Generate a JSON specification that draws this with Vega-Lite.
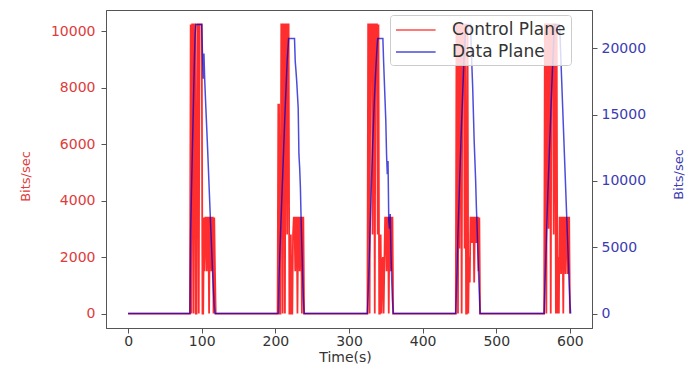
{
  "$schema": "https://vega.github.io/schema/vega-lite/v6.json",
  "width": 486,
  "height": 318,
  "autosize": {"type": "none"},
  "padding": {"left": 106, "top": 10, "right": 93, "bottom": 38},
  "background": "white",
  "config": {
    "font": "DejaVu Sans",
    "view": {"stroke": "#555", "strokeWidth": 1},
    "axis": {"grid": false, "domainColor": "#555", "tickColor": "#555", "tickSize": 5, "labelFontSize": 14, "titleFontSize": 13, "titleFontWeight": "normal"}
  },
  "datasets": {
    "control": [
      {"t":0,"v":0},{"t":84,"v":0},
      {"t":85,"v":10240},{"t":86,"v":0},{"t":87,"v":10240},{"t":88,"v":10240},{"t":89,"v":0},{"t":90,"v":10240},{"t":91,"v":10240},{"t":92,"v":0},{"t":93,"v":0},{"t":94,"v":10240},{"t":95,"v":10240},{"t":96,"v":0},{"t":97,"v":10240},{"t":98,"v":10240},{"t":99,"v":10240},{"t":100,"v":10240},{"t":101,"v":0},{"t":102,"v":0},{"t":103,"v":3400},{"t":104,"v":1500},{"t":105,"v":3400},{"t":106,"v":3400},{"t":107,"v":1500},{"t":108,"v":3400},{"t":109,"v":3400},{"t":110,"v":0},{"t":111,"v":3400},{"t":112,"v":3400},{"t":113,"v":1500},{"t":114,"v":3400},{"t":115,"v":3400},{"t":116,"v":0},{"t":117,"v":3400},{"t":118,"v":1500},{"t":119,"v":0},
      {"t":203,"v":0},{"t":204,"v":7400},{"t":205,"v":7400},{"t":206,"v":0},{"t":207,"v":0},{"t":208,"v":10240},{"t":209,"v":10240},{"t":210,"v":0},{"t":211,"v":10240},{"t":212,"v":10240},{"t":213,"v":0},{"t":214,"v":10240},{"t":215,"v":10240},{"t":216,"v":2800},{"t":217,"v":10240},{"t":218,"v":10240},{"t":219,"v":0},{"t":220,"v":0},{"t":221,"v":2800},{"t":222,"v":0},{"t":223,"v":0},{"t":224,"v":2800},{"t":225,"v":3400},{"t":226,"v":3400},{"t":227,"v":1500},{"t":228,"v":3400},{"t":229,"v":3400},{"t":230,"v":0},{"t":231,"v":3400},{"t":232,"v":3400},{"t":233,"v":1500},{"t":234,"v":3400},{"t":235,"v":3400},{"t":236,"v":0},{"t":237,"v":3400},{"t":238,"v":3400},{"t":239,"v":0},
      {"t":325,"v":0},{"t":326,"v":10240},{"t":327,"v":10240},{"t":328,"v":0},{"t":329,"v":10240},{"t":330,"v":10240},{"t":331,"v":10240},{"t":332,"v":2800},{"t":333,"v":10240},{"t":334,"v":10240},{"t":335,"v":0},{"t":336,"v":10240},{"t":337,"v":10240},{"t":338,"v":10240},{"t":339,"v":2800},{"t":340,"v":10240},{"t":341,"v":0},{"t":342,"v":0},{"t":343,"v":2800},{"t":344,"v":0},{"t":345,"v":1700},{"t":346,"v":2000},{"t":347,"v":0},{"t":348,"v":1700},{"t":349,"v":3400},{"t":350,"v":3400},{"t":351,"v":1500},{"t":352,"v":3400},{"t":353,"v":3400},{"t":354,"v":0},{"t":355,"v":3400},{"t":356,"v":3400},{"t":357,"v":1500},{"t":358,"v":3400},{"t":359,"v":3400},{"t":360,"v":0},
      {"t":445,"v":0},{"t":446,"v":10240},{"t":447,"v":10240},{"t":448,"v":0},{"t":449,"v":10240},{"t":450,"v":2300},{"t":451,"v":10240},{"t":452,"v":10240},{"t":453,"v":0},{"t":454,"v":10240},{"t":455,"v":10240},{"t":456,"v":10240},{"t":457,"v":2300},{"t":458,"v":10240},{"t":459,"v":0},{"t":460,"v":0},{"t":461,"v":10240},{"t":462,"v":0},{"t":463,"v":2000},{"t":464,"v":1100},{"t":465,"v":3400},{"t":466,"v":3400},{"t":467,"v":2500},{"t":468,"v":3400},{"t":469,"v":3400},{"t":470,"v":1100},{"t":471,"v":3400},{"t":472,"v":3400},{"t":473,"v":2500},{"t":474,"v":3400},{"t":475,"v":3400},{"t":476,"v":1500},{"t":477,"v":3400},{"t":478,"v":0},
      {"t":565,"v":0},{"t":566,"v":10240},{"t":567,"v":10240},{"t":568,"v":0},{"t":569,"v":10240},{"t":570,"v":10240},{"t":571,"v":3000},{"t":572,"v":10240},{"t":573,"v":10240},{"t":574,"v":0},{"t":575,"v":10240},{"t":576,"v":10240},{"t":577,"v":10240},{"t":578,"v":2800},{"t":579,"v":10240},{"t":580,"v":10240},{"t":581,"v":0},{"t":582,"v":10240},{"t":583,"v":0},{"t":584,"v":2000},{"t":585,"v":0},{"t":586,"v":3400},{"t":587,"v":3400},{"t":588,"v":1400},{"t":589,"v":3400},{"t":590,"v":3400},{"t":591,"v":0},{"t":592,"v":3400},{"t":593,"v":3400},{"t":594,"v":1400},{"t":595,"v":3400},{"t":596,"v":3400},{"t":597,"v":1400},{"t":598,"v":3400},{"t":599,"v":3400},{"t":600,"v":0}
    ],
    "data": [
      {"t":0,"v":0},{"t":84,"v":0},
      {"t":85,"v":6200},{"t":86,"v":9000},{"t":87,"v":11500},{"t":88,"v":14000},{"t":89,"v":16500},{"t":90,"v":19000},{"t":91,"v":21000},{"t":92,"v":21800},{"t":100,"v":21800},{"t":101,"v":19600},{"t":102,"v":17700},{"t":103,"v":19600},{"t":104,"v":17700},{"t":105,"v":16300},{"t":106,"v":15000},{"t":107,"v":13700},{"t":108,"v":12400},{"t":109,"v":11000},{"t":110,"v":9600},{"t":111,"v":8200},{"t":112,"v":6800},{"t":113,"v":5500},{"t":114,"v":4100},{"t":115,"v":2800},{"t":116,"v":1600},{"t":117,"v":600},{"t":118,"v":0},
      {"t":204,"v":0},{"t":205,"v":2800},{"t":207,"v":6000},{"t":210,"v":10500},{"t":213,"v":15000},{"t":216,"v":19000},{"t":218,"v":20750},{"t":226,"v":20750},{"t":227,"v":19000},{"t":228,"v":18300},{"t":229,"v":17500},{"t":230,"v":16500},{"t":231,"v":15500},{"t":232,"v":12000},{"t":233,"v":11000},{"t":234,"v":9500},{"t":235,"v":7000},{"t":236,"v":5000},{"t":237,"v":3000},{"t":238,"v":1200},{"t":239,"v":0},
      {"t":325,"v":0},{"t":326,"v":1500},{"t":328,"v":5000},{"t":330,"v":9000},{"t":332,"v":12500},{"t":334,"v":15500},{"t":336,"v":18000},{"t":338,"v":20000},{"t":339,"v":20750},{"t":346,"v":20750},{"t":347,"v":19000},{"t":348,"v":17500},{"t":349,"v":16000},{"t":350,"v":14500},{"t":351,"v":12000},{"t":352,"v":10500},{"t":353,"v":11500},{"t":354,"v":7000},{"t":355,"v":6400},{"t":356,"v":7500},{"t":357,"v":4500},{"t":358,"v":2500},{"t":359,"v":1000},{"t":360,"v":0},
      {"t":445,"v":0},{"t":446,"v":2000},{"t":448,"v":6000},{"t":450,"v":9500},{"t":452,"v":13000},{"t":454,"v":16000},{"t":456,"v":19000},{"t":458,"v":21000},{"t":459,"v":21800},{"t":465,"v":21800},{"t":466,"v":20000},{"t":467,"v":18500},{"t":468,"v":17000},{"t":469,"v":15000},{"t":470,"v":13000},{"t":471,"v":11500},{"t":472,"v":10000},{"t":473,"v":8000},{"t":474,"v":6500},{"t":475,"v":4500},{"t":476,"v":3000},{"t":477,"v":1500},{"t":478,"v":0},
      {"t":565,"v":0},{"t":566,"v":2000},{"t":568,"v":5500},{"t":570,"v":9000},{"t":572,"v":12000},{"t":574,"v":15000},{"t":576,"v":18000},{"t":578,"v":20500},{"t":579,"v":21800},{"t":586,"v":21800},{"t":587,"v":20300},{"t":588,"v":18800},{"t":589,"v":17300},{"t":590,"v":15800},{"t":591,"v":14300},{"t":592,"v":12800},{"t":593,"v":11300},{"t":594,"v":9800},{"t":595,"v":8300},{"t":596,"v":6800},{"t":597,"v":5300},{"t":598,"v":3800},{"t":599,"v":2300},{"t":600,"v":900},{"t":601,"v":0}
    ]
  },
  "encoding": {
    "x": {
      "field": "t", "type": "quantitative",
      "scale": {"domain": [-30, 630], "nice": false, "zero": false},
      "axis": {"values": [0,100,200,300,400,500,600], "title": "Time(s)", "labelColor": "#333", "titleColor": "#333", "labelPadding": 1, "titleFontSize": 14, "titleX": 239, "titleY": 29, "titleAlign": "center", "titleBaseline": "middle"}
    }
  },
  "layer": [
    {
      "data": {"name": "control"},
      "mark": {"type": "line", "strokeWidth": 1.8, "opacity": 0.82},
      "encoding": {
        "y": {
          "field": "v", "type": "quantitative",
          "scale": {"domain": [-512, 10752], "nice": false, "zero": false},
          "axis": {"orient": "left", "values": [0,2000,4000,6000,8000,10000], "format": "d", "labelColor": "#e03a3a", "labelPadding": 6, "title": "Bits/sec", "titleColor": "#e03a3a", "titleAngle": 270, "titleX": -81, "titleY": 166, "titleAlign": "center", "titleBaseline": "middle"}
        },
        "color": {
          "datum": "Control Plane", "type": "nominal",
          "scale": {"domain": ["Control Plane", "Data Plane"], "range": ["#ff0000", "#0000cc"]},
          "legend": {"orient": "none", "legendX": 284, "legendY": 5, "title": null, "symbolType": "M-1,0H3.4", "symbolSize": 324, "symbolStrokeWidth": 1.5, "symbolOpacity": 0.5, "symbolFillColor": "transparent", "labelFontSize": 17, "labelColor": "#333", "strokeColor": "#cccccc", "fillColor": "rgba(255,255,255,0.8)", "padding": 5, "cornerRadius": 3, "rowPadding": 4, "labelOffset": 37}
        }
      }
    },
    {
      "data": {"name": "data"},
      "mark": {"type": "line", "strokeWidth": 1.5, "opacity": 0.7},
      "encoding": {
        "y": {
          "field": "v", "type": "quantitative",
          "scale": {"domain": [-1090, 22890], "nice": false, "zero": false},
          "axis": {"orient": "right", "values": [0,5000,10000,15000,20000], "format": "d", "labelColor": "#3b3bb3", "labelPadding": 4, "title": "Bits/sec", "titleColor": "#3b3bb3", "titleAngle": 270, "titleX": 86, "titleY": 164, "titleAlign": "center", "titleBaseline": "middle"}
        },
        "color": {"datum": "Data Plane", "type": "nominal"}
      }
    }
  ],
  "resolve": {"scale": {"y": "independent"}}
}
